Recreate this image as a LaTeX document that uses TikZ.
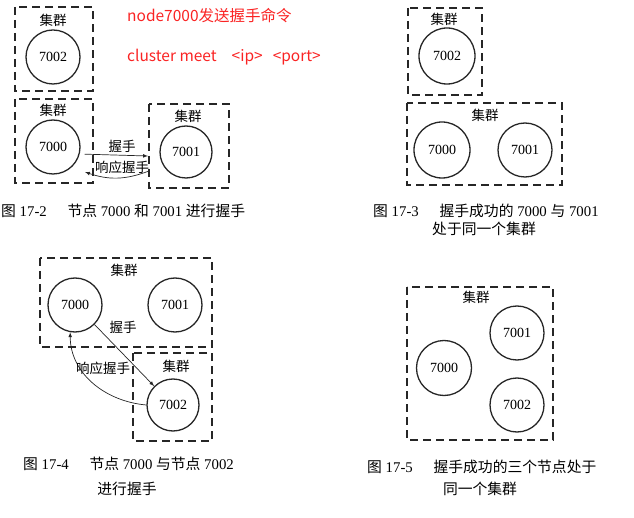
\documentclass[tikz,border=0pt]{standalone}
\usepackage{fontspec}
\setmainfont{Liberation Serif}
\newfontfamily\zhfont{Noto Sans CJK SC}
\newcommand{\zh}[1]{{\zhfont #1}}
\definecolor{cmdred}{RGB}{250,35,35}

\begin{document}
\begin{tikzpicture}[x=1pt, y=-1pt, >=latex]

% --- Global TikZ Styles ---
\tikzset{
    clusterbox/.style={
        draw=black!85,
        line width=1.3pt,
        dash pattern=on 8pt off 5pt
    },
    peer/.style={
        circle,
        draw=black!85,
        line width=1.3pt,
        minimum size=54pt,
        inner sep=0pt,
        font=\fontsize{14}{14}\selectfont
    },
    clusterlabel/.style={
        font=\fontsize{13.5}{13.5}\selectfont\zhfont
    },
    msglabel/.style={
        font=\fontsize{13.5}{13.5}\selectfont\zhfont,
        inner sep=1pt
    },
    caption/.style={
        font=\fontsize{14.8}{14.8}\selectfont,
        inner sep=0pt
    },
    cmdtext/.style={
        font=\fontsize{15.5}{15.5}\selectfont\zhfont,
        text=cmdred,
        anchor=west,
        inner sep=0pt
    },
    arrow/.style={
        ->,
        >=latex,
        line width=0.7pt,
        draw=black!85
    }
}

\useasboundingbox (0,0) rectangle (634,518);

% ==================================================
% --- Fig 17-2: 7000 and 7001 handshake ---
% ==================================================

% Clusters
\draw[clusterbox] (15,7) rectangle (93,91);
\node[clusterlabel] (g7002a) at (53,20) {集群};
\node[peer] (n7002a) at (53,57) {7002};

\draw[clusterbox] (15,99) rectangle (93,183);
\node[clusterlabel] (g7000a) at (53,110) {集群};
\node[peer] (n7000a) at (53,147) {7000};

\draw[clusterbox] (149,104) rectangle (229,188);
\node[clusterlabel] (g7001a) at (188,116) {集群};
\node[peer, minimum size=52pt] (n7001a) at (186,152) {7001};

% Handshake arrows
\coordinate (meetA) at (148,156);
\coordinate (replyA) at (149,171);
\coordinate (backA) at (85,172);
\draw[arrow] ([xshift=5pt]n7000a.-15) -- (meetA);
\draw[arrow] (replyA) to[bend left=20] (backA);
\node[msglabel] (m1a) at (122,146) {握手};
\node[msglabel] (m2a) at (122,167) {响应握手};

% Command text
\node[cmdtext] (cmd1) at (127,16) {node7000发送握手命令};
\node[cmdtext] (cmd2) at (127,57) {cluster meet\hspace{15pt}<ip>\hspace{10pt}<port>};

\node[caption, anchor=west] (cap2) at (1,211)
    {\zh{图} 17-2\hspace{1.4em}\zh{节点} 7000 \zh{和} 7001 \zh{进行握手}};

% ==================================================
% --- Fig 17-3: 7000 and 7001 in one cluster ---
% ==================================================

\draw[clusterbox] (408,8) rectangle (482,95);
\node[clusterlabel] (g7002b) at (444,19) {集群};
\node[peer, minimum size=56pt] (n7002b) at (447,56) {7002};

\draw[clusterbox] (407,103) rectangle (562,185);
\node[clusterlabel] (g7000b) at (485,115) {集群};
\node[peer, minimum size=56pt] (n7000b) at (442,150) {7000};
\node[peer] (n7001b) at (525,150) {7001};

\node[caption, anchor=west] (cap3a) at (373,211)
    {\zh{图} 17-3\hspace{1.4em}\zh{握手成功的} 7000 \zh{与} 7001};
\node[caption] (cap3b) at (484,229) {\zh{处于同一个集群}};

% ==================================================
% --- Fig 17-4: 7000 and 7002 handshake ---
% ==================================================

\draw[clusterbox] (40,258) rectangle (212,347);
\node[clusterlabel] (g7000c) at (124,270) {集群};
\node[peer] (n7000c) at (75,305) {7000};
\node[peer] (n7001c) at (175,305) {7001};

\draw[clusterbox] (133,353) rectangle (212,441);
\node[clusterlabel] (g7002c) at (176,366) {集群};
\node[peer, minimum size=52pt] (n7002c) at (173,405) {7002};

% Handshake arrows
\draw[arrow] (n7000c.-45) -- (n7002c.135);
\draw[arrow] (n7002c.west) to[out=175, in=-90] (n7000c.-100);
\node[msglabel] (m1c) at (123,327) {握手};
\node[msglabel] (m2c) at (103,368) {响应握手};

\node[caption, anchor=west] (cap4a) at (23,464)
    {\zh{图} 17-4\hspace{1.4em}\zh{节点} 7000 \zh{与节点} 7002};
\node[caption] (cap4b) at (127,489) {\zh{进行握手}};

% ==================================================
% --- Fig 17-5: three nodes in one cluster ---
% ==================================================

\draw[clusterbox] (407,287) rectangle (553,440);
\node[clusterlabel] (g7000d) at (476,297) {集群};
\node[peer, minimum size=55pt] (n7000d) at (444,368) {7000};
\node[peer] (n7001d) at (517,333) {7001};
\node[peer] (n7002d) at (517,405) {7002};

\node[caption, anchor=west] (cap5a) at (367,467)
    {\zh{图} 17-5\hspace{1.4em}\zh{握手成功的三个节点处于}};
\node[caption] (cap5b) at (480,489) {\zh{同一个集群}};

\end{tikzpicture}
\end{document}
